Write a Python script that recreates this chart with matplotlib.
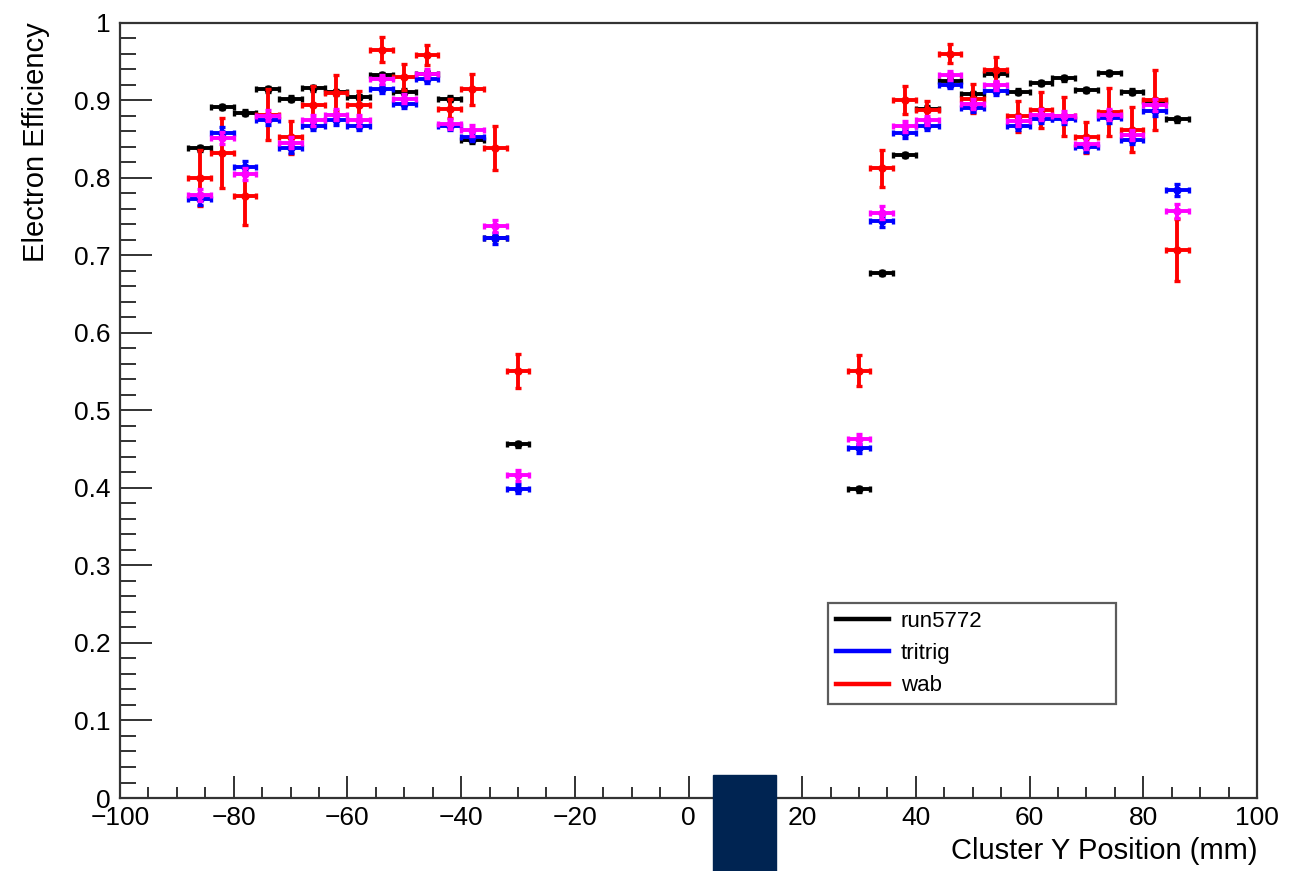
import matplotlib
matplotlib.use("Agg")
import matplotlib.pyplot as plt
from matplotlib.patches import Rectangle
from matplotlib.ticker import MultipleLocator

plt.rcParams['font.family'] = ['Liberation Sans', 'DejaVu Sans']

# bin centres (mm), bins are 4 mm wide
bins = [-86, -82, -78, -74, -70, -66, -62, -58, -54, -50, -46, -42, -38, -34, -30,
        30, 34, 38, 42, 46, 50, 54, 58, 62, 66, 70, 74, 78, 82, 86]

run5772 = [0.838, 0.891, 0.884, 0.914, 0.902, 0.915, 0.910, 0.904, 0.932, 0.911,
           0.934, 0.902, 0.848, 0.722, 0.456,
           0.398, 0.677, 0.829, 0.889, 0.925, 0.908, 0.934, 0.911, 0.922, 0.928,
           0.913, 0.935, 0.911, 0.899, 0.875]
run5772_err = [0.003] * 30

tritrig = [0.772, 0.858, 0.814, 0.874, 0.838, 0.867, 0.874, 0.867, 0.914, 0.895,
           0.927, 0.866, 0.853, 0.722, 0.399,
           0.451, 0.744, 0.857, 0.867, 0.920, 0.890, 0.912, 0.867, 0.876, 0.875,
           0.839, 0.877, 0.849, 0.886, 0.784]
tritrig_err = [0.007, 0.007, 0.007, 0.006, 0.006, 0.006, 0.006, 0.006, 0.005, 0.005,
               0.005, 0.005, 0.006, 0.007, 0.006,
               0.006, 0.007, 0.006, 0.005, 0.005, 0.005, 0.005, 0.006, 0.006, 0.006,
               0.006, 0.006, 0.006, 0.007, 0.008]

other = [0.778, 0.851, 0.805, 0.880, 0.845, 0.874, 0.881, 0.874, 0.927, 0.902,
         0.934, 0.869, 0.861, 0.738, 0.416,
         0.463, 0.755, 0.866, 0.874, 0.932, 0.895, 0.919, 0.873, 0.881, 0.879,
         0.844, 0.881, 0.855, 0.894, 0.757]
other_err = [0.008, 0.008, 0.008, 0.007, 0.007, 0.007, 0.007, 0.007, 0.006, 0.006,
             0.006, 0.006, 0.007, 0.008, 0.007,
             0.007, 0.008, 0.007, 0.006, 0.006, 0.006, 0.006, 0.007, 0.007, 0.007,
             0.007, 0.007, 0.007, 0.008, 0.009]

wab = [0.800, 0.832, 0.776, 0.881, 0.852, 0.894, 0.909, 0.894, 0.965, 0.930,
       0.958, 0.889, 0.914, 0.838, 0.551,
       0.551, 0.812, 0.900, 0.887, 0.960, 0.902, 0.939, 0.879, 0.887, 0.879,
       0.852, 0.885, 0.862, 0.900, 0.707]
wab_err = [0.036, 0.045, 0.037, 0.033, 0.021, 0.024, 0.023, 0.018, 0.016, 0.017,
           0.013, 0.012, 0.020, 0.028, 0.022,
           0.020, 0.024, 0.018, 0.012, 0.012, 0.019, 0.016, 0.020, 0.023, 0.025,
           0.020, 0.031, 0.029, 0.039, 0.040]

fig = plt.figure(figsize=(12.89, 8.71), dpi=100)
ax = fig.add_axes([0.0931, 0.0838, 0.8821, 0.8903])

style = dict(xerr=2, fmt='o', markersize=5, elinewidth=2.8, capsize=2.5,
             capthick=2.4, linestyle='none')
ax.errorbar(bins, run5772, yerr=run5772_err, color='black', zorder=2, **style)
ax.errorbar(bins, wab, yerr=wab_err, color='#ff0000', zorder=3, **style)
ax.errorbar(bins, tritrig, yerr=tritrig_err, color='#0000ff', zorder=4, **style)
ax.errorbar(bins, other, yerr=other_err, color='#ff00ff', zorder=5, **style)

ax.set_xlim(-100, 100)
ax.set_ylim(0, 1)
ax.xaxis.set_major_locator(MultipleLocator(20))
ax.xaxis.set_minor_locator(MultipleLocator(5))
ax.yaxis.set_minor_locator(MultipleLocator(0.02))
ax.set_yticks([i / 10 for i in range(11)])
ax.set_yticklabels(['0', '0.1', '0.2', '0.3', '0.4', '0.5', '0.6', '0.7', '0.8', '0.9', '1'])

ax.tick_params(axis='both', which='both', direction='in', top=False, right=False,
               color='#222222', width=1.3)
ax.tick_params(axis='x', which='major', length=16, labelsize=19, pad=6)
ax.tick_params(axis='x', which='minor', length=8)
ax.tick_params(axis='y', which='major', length=23, labelsize=19, pad=7)
ax.tick_params(axis='y', which='minor', length=11.5)
for s in ax.spines.values():
    s.set_color('#333333')
    s.set_linewidth(1.6)

ax.set_xlabel('Cluster Y Position (mm)', fontsize=21, loc='right')
ax.xaxis.set_label_coords(1.0, -0.050)
ax.set_ylabel('Electron Efficiency', fontsize=21, loc='top')
ax.yaxis.set_label_coords(-0.062, 1.0)

h1, = ax.plot([], [], color='black', lw=3.2)
h2, = ax.plot([], [], color='#0000ff', lw=3.2)
h3, = ax.plot([], [], color='#ff0000', lw=3.2)
leg = ax.legend([h1, h2, h3], ['run5772', 'tritrig', 'wab'], loc='upper left',
                bbox_to_anchor=(0.623, 0.251, 0.253, 0.0), mode='expand',
                fontsize=16, frameon=True, fancybox=False, edgecolor='#333333',
                handlelength=2.4, labelspacing=0.5, borderpad=0.35,
                handletextpad=0.5, borderaxespad=0.0)
leg.get_frame().set_linewidth(1.6)

# dark block covering the bottom of the picture
fig.add_artist(Rectangle((713 / 1289, 0), 63 / 1289, 96 / 871,
                         transform=fig.transFigure, color='#002452', zorder=10))

plt.savefig('out.png', dpi=100)
plt.close()
